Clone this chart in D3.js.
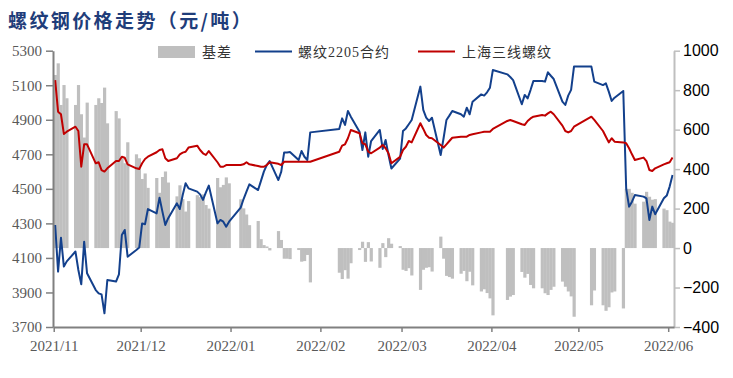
<!DOCTYPE html>
<html>
<head>
<meta charset="utf-8">
<script src="https://cdn.jsdelivr.net/npm/d3@7/dist/d3.min.js"></script>
<style>
  body { margin: 0; background: #fff; }
  svg { display: block; }
</style>
</head>
<body>
<svg id="chart" width="733" height="378"></svg>
<script>
// trading days, month by month
var tradeDays = [
  ["2021-11", [1,2,3,4,5,8,9,10,11,12,15,16,17,18,19,22,23,24,25,26,29,30]],
  ["2021-12", [1,2,3,6,7,8,9,10,13,14,15,16,17,20,21,22,23,24,27,28,29,30,31]],
  ["2022-01", [4,5,6,7,10,11,12,13,14,17,18,19,20,21,24,25,26,27,28]],
  ["2022-02", [7,8,9,10,11,14,15,16,17,18,21,22,23,24,25,28]],
  ["2022-03", [1,2,3,4,7,8,9,10,11,14,15,16,17,18,21,22,23,24,25,28,29,30,31]],
  ["2022-04", [1,6,7,8,11,12,13,14,15,18,19,20,21,22,25,26,27,28,29]],
  ["2022-05", [5,6,9,10,11,12,13,16,17,18,19,20,23,24,25,26,27,30,31]],
  ["2022-06", [1,2]]
];

// 上海三线螺纹 (spot)
var spot = [
  5130,4947,4932,4818,4831,4860,4835,4628,4758,4758,4648,4654,4609,4600,4619,4661,4661,4686,4680,4642,4619,4615,
  4648,4673,4686,4712,4725,4729,4677,4661,4677,4700,4710,4715,4739,4750,4725,4706,4696,4719,4654,4628,4628,4638,4638,
  4638,4642,4654,4642,4632,4628,4628,4638,4654,4645,4638,4657,4657,4657,4657,4657,4657,4657,4657,
  4715,4750,4758,4793,4841,4822,4764,4758,4715,4706,4739,4754,4735,4706,4648,4685,
  4725,4744,4777,4769,4880,4847,4812,4796,4793,4754,4739,4758,4777,4796,4802,4802,4802,4812,4816,4827,4831,4831,4831,
  4847,4893,4899,4893,4874,4870,4893,4908,4918,4928,4924,4937,4947,4932,4866,4835,4827,4835,4860,
  4918,4899,4835,4802,4769,4793,4773,4769,4764,4735,4700,4667,4681,4661,4609,4603,4619,4642,4648,
  4654,4681
];

// 螺纹2205合约 (futures)
var futures = [
  4291,4021,4217,4050,4080,4137,4030,3947,4194,4011,3914,3895,3889,3779,3972,3963,4005,4233,4262,4107,4146,4160,
  4300,4295,4383,4358,4449,4368,4291,4330,4416,4383,4464,4532,4503,4484,4468,4436,4480,4519,4300,4320,4310,4281,4310,
  4391,4441,4484,4526,4493,4546,4600,4638,4661,4551,4600,4711,4711,4713,4667,4719,4686,4667,4827,
  4847,4908,4870,4951,4918,4831,4725,4827,4686,4777,4841,4731,4783,4696,4618,4675,
  4835,4850,4874,4899,5092,4957,4912,4893,4912,4696,4793,4899,4924,4951,4932,4918,4970,4932,5005,5047,5040,5059,5086,
  5188,5163,5148,5130,4990,5044,5024,5072,5125,5125,5121,5175,5155,5136,5005,4986,5040,5073,5208,
  5208,5121,5101,5111,5063,5009,5028,5067,4503,4397,4426,4464,4455,4445,4320,4397,4353,4445,4461,
  4513,4580
];

// 基差 (basis)
var basis = [
  877,936,725,826,759,725,826,678,560,737,725,759,735,813,632,694,657,455,430,536,475,455,
  350,378,305,355,280,360,388,332,262,318,248,185,238,268,258,272,218,200,355,308,320,358,328,
  247,201,170,116,137,45,15,8,-12,86,41,-54,-54,-56,-10,-69,-66,-35,-174,
  -125,-157,-112,-155,-77,-10,32,-70,30,-68,-100,25,-46,50,22,10,
  -110,-116,-102,-139,-212,-110,-100,-97,-119,58,-54,-141,-147,-155,-130,-116,-168,-120,-189,-220,-209,-228,-255,
  -341,-263,-246,-238,-121,-150,-131,-187,-204,-204,-229,-238,-212,-196,-170,-196,-220,-245,-348,
  -290,-215,-290,-318,-300,-225,-220,-306,300,300,280,225,235,285,260,245,248,200,192,
  134,128
];

var leftTicks = [3700, 3900, 4100, 4300, 4500, 4700, 4900, 5100, 5300];
var rightTicks = [-400, -200, 0, 200, 400, 600, 800, 1000];
var monthTicks = ["2021-11-01","2021-12-01","2022-01-01","2022-02-01","2022-03-01","2022-04-01","2022-05-01","2022-06-01"];

var parse = d3.timeParse("%Y-%m-%d %H");
var dates = [];
tradeDays.forEach(function(m) {
  m[1].forEach(function(d) {
    dates.push(parse(m[0] + "-" + (d < 10 ? "0" + d : d) + " 12"));
  });
});

var data = dates.map(function(d, i) {
  return { date: d, spot: spot[i], fut: futures[i], basis: basis[i] };
});

var margin = {top: 50.7, right: 59, bottom: 51, left: 53},
    width = 733 - margin.left - margin.right,
    height = 378 - margin.top - margin.bottom;

var svg = d3.select("#chart");

svg.append("text")
  .attr("x", 8)
  .attr("y", 28)
  .attr("fill", "#1f3d7a")
  .attr("font-family", "'Noto Sans CJK SC', sans-serif")
  .attr("font-weight", "bold")
  .attr("font-size", 19)
  .attr("letter-spacing", 2.4)
  .text("螺纹钢价格走势（元/吨）");

var g = svg.append("g")
  .attr("transform", "translate(" + margin.left + "," + margin.top + ")");

var x = d3.scaleTime()
  .domain([new Date(2021, 9, 31, 18), new Date(2022, 5, 3, 0)])
  .range([0, width]);

var yL = d3.scaleLinear().domain([3700, 5300]).range([height, 0]);
var yR = d3.scaleLinear().domain([-400, 1000]).range([height, 0]);

var dayW = x(new Date(2021, 10, 2)) - x(new Date(2021, 10, 1));

// bars
g.selectAll(".bar")
  .data(data)
  .enter()
  .append("rect")
  .attr("class", "bar")
  .attr("x", function(d) { return x(d.date) - dayW / 2; })
  .attr("width", dayW + 0.3)
  .attr("y", function(d) { return yR(Math.max(0, d.basis)); })
  .attr("height", function(d) { return Math.abs(yR(d.basis) - yR(0)); })
  .attr("fill", "#bfbfbf");

var lineFut = d3.line()
  .x(function(d) { return x(d.date); })
  .y(function(d) { return yL(d.fut); });

var lineSpot = d3.line()
  .x(function(d) { return x(d.date); })
  .y(function(d) { return yL(d.spot); });

g.append("path")
  .datum(data)
  .attr("fill", "none")
  .attr("stroke", "#13408c")
  .attr("stroke-width", 2)
  .attr("stroke-linejoin", "round")
  .attr("d", lineFut);

g.append("path")
  .datum(data)
  .attr("fill", "none")
  .attr("stroke", "#c00000")
  .attr("stroke-width", 2)
  .attr("stroke-linejoin", "round")
  .attr("d", lineSpot);

// left axis
var axL = g.append("g")
  .call(d3.axisLeft(yL).tickValues(leftTicks).tickFormat(d3.format("d")).tickSize(7).tickPadding(4).tickSizeOuter(0));
axL.select(".domain").attr("stroke", "#808080").attr("stroke-width", 2);
axL.selectAll(".tick line").attr("stroke", "#808080").attr("stroke-width", 1.5);
axL.selectAll("text")
  .attr("fill", "#595959")
  .attr("font-family", "'Liberation Serif', serif")
  .attr("font-size", 15);

// right axis
var axR = g.append("g")
  .attr("transform", "translate(" + width + ",0)")
  .call(d3.axisRight(yR).tickValues(rightTicks).tickFormat(d3.format("d")).tickSize(6).tickPadding(3).tickSizeOuter(0));
axR.select(".domain").attr("stroke", "#bfbfbf").attr("stroke-width", 2);
axR.selectAll(".tick line").attr("stroke", "#bfbfbf").attr("stroke-width", 1.5);
axR.selectAll("text")
  .attr("fill", "#000")
  .attr("font-family", "'Liberation Sans', Arial, sans-serif")
  .attr("font-size", 16);

// bottom axis
var axB = g.append("g")
  .attr("transform", "translate(0," + height + ")")
  .call(d3.axisBottom(x)
    .tickValues(monthTicks.map(function(s) { return d3.timeParse("%Y-%m-%d")(s); }))
    .tickFormat(d3.timeFormat("%Y/%m"))
    .tickSize(5).tickPadding(8).tickSizeOuter(0));
axB.select(".domain").attr("stroke", "#808080").attr("stroke-width", 2);
axB.selectAll(".tick line").attr("stroke", "#808080").attr("stroke-width", 1.5);
axB.selectAll("text")
  .attr("fill", "#595959")
  .attr("font-family", "'Liberation Serif', serif")
  .attr("font-size", 15);

// legend
var lg = svg.append("g")
  .attr("font-family", "'Liberation Serif', 'Noto Sans CJK SC', serif")
  .attr("font-size", 14)
  .attr("fill", "#333");

lg.append("rect").attr("x", 158).attr("y", 46).attr("width", 37).attr("height", 12).attr("fill", "#bfbfbf");
lg.append("text").attr("x", 202).attr("y", 57).attr("letter-spacing", 1).text("基差");
lg.append("line").attr("x1", 255).attr("x2", 292).attr("y1", 51.5).attr("y2", 51.5)
  .attr("stroke", "#13408c").attr("stroke-width", 2);
lg.append("text").attr("x", 298).attr("y", 57).attr("letter-spacing", 1).text("螺纹2205合约");
lg.append("line").attr("x1", 418).attr("x2", 455).attr("y1", 51.5).attr("y2", 51.5)
  .attr("stroke", "#c00000").attr("stroke-width", 2);
lg.append("text").attr("x", 462).attr("y", 57).attr("letter-spacing", 1).text("上海三线螺纹");
</script>
</body>
</html>
